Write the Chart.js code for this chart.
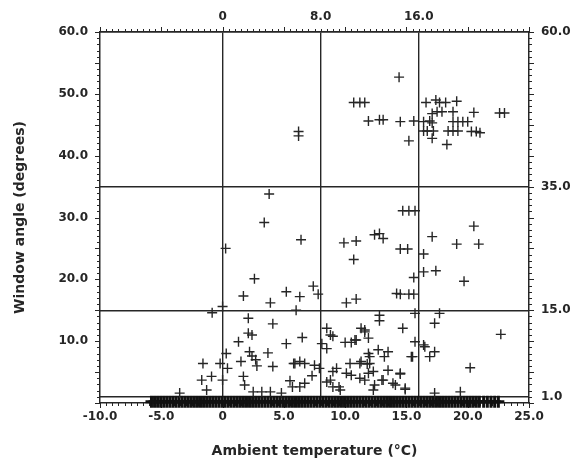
<!DOCTYPE html>
<html lang="en">
<head>
    <meta charset="UTF-8">
    <title>Window angle vs ambient temperature</title>
    <script src="https://cdn.jsdelivr.net/npm/chart.js"></script>
    <style>
        body { margin: 0; background: #fff; }
        canvas { display: block; }
    </style>
</head>
<body>
    <canvas id="windowChart" width="584" height="461"></canvas>
    <script>
        // open windows: ambient temperature (°C) and window angle (degrees)
        const tempC = [
            14.4, 10.7, 11.2, 11.6, 6.2, 6.2, 11.9, 12.8, 13.1, 14.5, 15.2, 15.6, 16.4, 16.6,
            17.4, 17.7, 18.2, 19.1, 17.1, 17.5, 17.9, 18.8, 16.9, 17.1, 16.4, 16.7, 17.2, 17.1,
            18.3, 18.4, 18.8, 19.2, 18.8, 19.2, 19.6, 20.0, 20.5, 20.3, 20.7, 21.0, 22.6, 23.0,
            3.8, 3.4, 6.4, 0.25, 9.9, 10.9, 10.7, 2.6, 1.7, 3.9, 5.2, 6.3, 7.4, 7.8, 10.1, 10.9, 6.0, 0.0,
            20.5, 19.1, 20.9, 17.1, 14.7, 15.2, 15.7, 12.4, 12.8, 13.1, 14.5, 15.1, 16.4, 16.4, 17.4,
            15.6, 19.7, 14.2, 14.5, 15.2, 15.6,
            -0.85, 2.1, 4.1, 2.1, 2.4, 1.3, 5.2, 6.5, 8.5, 9.0, 8.1, 8.5, 10.0, 10.5, 0.3, 2.2, 2.4,
            3.7, 2.7, 1.5, -0.2, 0.4, -1.6, 2.8, 4.1, 5.9, 6.3, 6.7, 7.5, 7.9, 9.0, 9.3, 7.3, 10.1,
            -1.7, -0.9, 0.0, 1.7, 1.8, 5.5, 6.7, 8.5, 9.0, 9.6, -1.3, 2.5, 3.2, 3.9,
            12.8, 12.8, 15.7, 17.7, 17.3, 22.7, 14.7, 11.3, 11.6, 11.9, 10.9, 15.7, 16.4, 17.3, 16.9,
            12.7, 13.5, 13.2, 11.9, 15.4, 11.3, 12.0, 12.3, 13.5, 14.5, 20.2, 11.6, 13.0, 12.4, 14.1,
            14.9, 12.3, 17.3, 19.4,
            8.8, 10.8, 11.6, 10.4, 11.2, 11.8, 12.0, 8.8, 9.5, 10.5, 11.2, 11.9, 13.1, 13.9, 14.5,
            14.9, 16.5, 15.5, 5.8, -3.5, 4.8, 5.7, 6.3
        ];
        const angleDeg = [
            52.7, 48.6, 48.6, 48.6, 43.9, 43.2, 45.6, 45.8, 45.8, 45.5, 42.4, 45.6, 45.5, 48.6,
            49.0, 48.6, 48.6, 48.8, 46.8, 47.1, 47.1, 47.1, 45.6, 45.3, 44.0, 44.0, 44.0, 42.8,
            41.8, 44.0, 44.0, 44.0, 45.5, 45.5, 45.5, 45.5, 47.0, 43.9, 43.9, 43.7, 46.9, 46.9,
            33.8, 29.2, 26.4, 25.0, 25.9, 26.2, 23.2, 20.1, 17.3, 16.2, 18.0, 17.2, 18.9, 17.6, 16.2, 16.8, 15.0, 15.6,
            28.6, 25.7, 25.7, 26.9, 31.1, 31.1, 31.1, 27.2, 27.4, 26.6, 24.9, 24.9, 24.1, 21.2, 21.4,
            20.3, 19.7, 17.7, 17.6, 17.6, 17.6,
            14.6, 13.7, 12.8, 11.3, 11.0, 9.9, 9.6, 10.6, 12.1, 10.8, 9.6, 8.8, 9.8, 9.8, 8.0, 8.3, 7.6,
            8.1, 7.0, 6.7, 6.4, 5.6, 6.4, 6.0, 5.9, 6.4, 6.7, 6.4, 6.1, 5.6, 5.1, 5.6, 4.4, 4.8,
            3.7, 4.3, 3.7, 4.3, 2.9, 3.6, 3.2, 3.4, 2.6, 2.1, 2.1, 1.8, 1.8, 1.8,
            14.2, 13.3, 14.5, 14.5, 12.9, 11.1, 12.1, 12.1, 11.5, 10.5, 10.2, 9.9, 9.4, 8.3, 7.5,
            8.6, 8.3, 7.5, 8.0, 7.5, 6.7, 6.4, 5.1, 5.3, 4.7, 5.7, 3.7, 3.7, 2.9, 2.9,
            2.2, 2.1, 1.6, 1.8,
            11.0, 10.2, 11.8, 6.4, 6.4, 6.3, 7.5, 3.7, 2.6, 4.5, 4.0, 4.8, 3.7, 3.2, 4.8,
            2.4, 9.1, 7.5, 6.4, 1.6, 1.6, 2.6, 2.6
        ];

        // closed windows (angle near 0): temperatures along the bottom band
        const closedTemp = [
            -5.8, -5.55, -5.3, -5.05, -4.8, -4.55, -4.3, -4.05, -3.8, -3.55, -3.3, -3.05, -2.8,
            -2.55, -2.3, -2.05, -1.8, -1.55, -1.3, -1.05, -0.8, -0.55, -0.3, -0.05, 0.2, 0.45,
            0.7, 0.95, 1.2, 1.45, 1.7, 1.95, 2.2, 2.45, 2.7, 2.95, 3.2, 3.45, 3.7, 3.95, 4.2,
            4.45, 4.7, 4.95, 5.2, 5.45, 5.7, 5.95, 6.2, 6.45, 6.7, 6.95, 7.2, 7.45, 7.7, 7.95,
            8.2, 8.45, 8.7, 8.95, 9.2, 9.45, 9.7, 9.95, 10.2, 10.45, 10.7, 10.95, 11.2, 11.45,
            11.7, 11.95, 12.2, 12.45, 12.7, 12.95, 13.2, 13.45, 13.7, 13.95, 14.2, 14.45, 14.7,
            14.95, 15.2, 15.45, 15.7, 15.95, 16.2, 16.45, 16.7, 16.95, 17.2, 17.45, 17.7, 17.95,
            18.2, 18.45, 18.7, 18.95, 19.2, 19.45, 19.7, 19.95, 20.2, 20.45, 20.7, 20.95, 21.3,
            21.6, 21.9, 22.2, 22.5
        ];
        const closedAngle = 0.2;

        // tick labels
        const xTicks = [-10, -5, 0, 5, 10, 15, 20, 25];
        const xTickLabels = ['-10.0', '-5.0', '0', '5.0', '10.0', '15.0', '20.0', '25.0'];
        const topTicks = [0, 8, 16];
        const topTickLabels = ['0', '8.0', '16.0'];
        const yTicks = [10, 20, 30, 40, 50, 60];
        const yTickLabels = ['10.0', '20.0', '30.0', '40.0', '50.0', '60.0'];
        const rightTicks = [1, 15, 35, 60];
        const rightTickLabels = ['1.0', '15.0', '35.0', '60.0'];

        const ink = '#262626';
        const tickFont = { family: 'DejaVu Sans', size: 12, weight: 'bold' };
        const titleFont = { family: 'DejaVu Sans', size: 14, weight: 'bold' };

        // little tick marks outside the frame
        const minorTicks = {
            id: 'minorTicks',
            beforeDatasetsDraw(chart) {
                const { ctx, chartArea: a, scales } = chart;
                ctx.save();
                ctx.strokeStyle = ink;
                ctx.lineWidth = 1;
                ctx.beginPath();
                for (let v = -10; v <= 25; v += 0.5) {
                    const px = Math.round(scales.x.getPixelForValue(v)) + 0.5;
                    const len = v % 5 === 0 ? 5 : 3;
                    ctx.moveTo(px, a.bottom); ctx.lineTo(px, a.bottom + len);
                    ctx.moveTo(px, a.top); ctx.lineTo(px, a.top - len);
                }
                for (let v = 0; v <= 60; v++) {
                    const py = Math.round(scales.y.getPixelForValue(v)) + 0.5;
                    const len = v % 5 === 0 ? 5 : 3;
                    ctx.moveTo(a.left, py); ctx.lineTo(a.left - len, py);
                    ctx.moveTo(a.right, py); ctx.lineTo(a.right + len, py);
                }
                ctx.stroke();
                ctx.restore();
            }
        };

        const fixSize = (prop, size) => (scale) => { scale[prop] = size; };
        const setTicks = (values) => (scale) => { scale.ticks = values.map(v => ({ value: v })); };

        const ctx = document.getElementById('windowChart').getContext('2d');
        new Chart(ctx, {
            type: 'scatter',
            data: {
                datasets: [
                    {
                        label: 'open',
                        data: tempC.map((t, i) => ({ x: t, y: angleDeg[i] })),
                        pointStyle: 'cross',
                        pointRadius: 5,
                        pointBorderWidth: 1.4,
                        borderColor: ink,
                        backgroundColor: ink
                    },
                    {
                        label: 'closed',
                        data: closedTemp.map(t => ({ x: t, y: closedAngle })),
                        pointStyle: 'cross',
                        pointRadius: 6,
                        pointBorderWidth: 3,
                        borderColor: '#111',
                        backgroundColor: '#111',
                        clip: false
                    }
                ]
            },
            options: {
                responsive: false,
                animation: false,
                devicePixelRatio: 1,
                layout: { padding: 0 },
                plugins: {
                    legend: { display: false },
                    tooltip: { enabled: false }
                },
                scales: {
                    x: {
                        type: 'linear',
                        position: 'bottom',
                        min: -10, max: 25,
                        afterBuildTicks: setTicks(xTicks),
                        afterFit: fixSize('height', 58),
                        ticks: {
                            callback: (v, i) => xTickLabels[i],
                            color: ink, font: tickFont, padding: 7, maxRotation: 0, autoSkip: false
                        },
                        grid: { display: false, drawTicks: false },
                        border: { display: true, color: ink, width: 1.5 },
                        title: {
                            display: true,
                            text: 'Ambient temperature (°C)',
                            color: ink, font: titleFont,
                            padding: { top: 0, bottom: 1 }
                        }
                    },
                    x2: {
                        type: 'linear',
                        position: 'top',
                        min: -10, max: 25,
                        afterBuildTicks: setTicks(topTicks),
                        afterFit: fixSize('height', 32),
                        ticks: {
                            callback: (v, i) => topTickLabels[i],
                            color: ink, font: tickFont, padding: 8, maxRotation: 0, autoSkip: false
                        },
                        grid: { display: true, drawTicks: false, color: ink, lineWidth: 1.4 },
                        border: { display: true, color: ink, width: 1.5 }
                    },
                    y: {
                        type: 'linear',
                        position: 'left',
                        min: 0, max: 60,
                        afterBuildTicks: setTicks(yTicks),
                        afterFit: fixSize('width', 100),
                        ticks: {
                            callback: (v, i) => yTickLabels[i],
                            color: ink, font: tickFont, padding: 12, autoSkip: false
                        },
                        grid: { display: false, drawTicks: false },
                        border: { display: true, color: ink, width: 1.5 },
                        title: {
                            display: true,
                            text: 'Window angle (degrees)',
                            color: ink, font: titleFont,
                            padding: { top: 12, bottom: 0 }
                        }
                    },
                    y2: {
                        type: 'linear',
                        position: 'right',
                        min: 0, max: 60,
                        afterBuildTicks: setTicks(rightTicks),
                        afterFit: fixSize('width', 55),
                        ticks: {
                            callback: (v, i) => rightTickLabels[i],
                            color: ink, font: tickFont, padding: 12, autoSkip: false
                        },
                        grid: { display: true, drawTicks: false, color: ink, lineWidth: 1.4 },
                        border: { display: true, color: ink, width: 1.5 }
                    }
                }
            },
            plugins: [minorTicks]
        });
    </script>
</body>
</html>
